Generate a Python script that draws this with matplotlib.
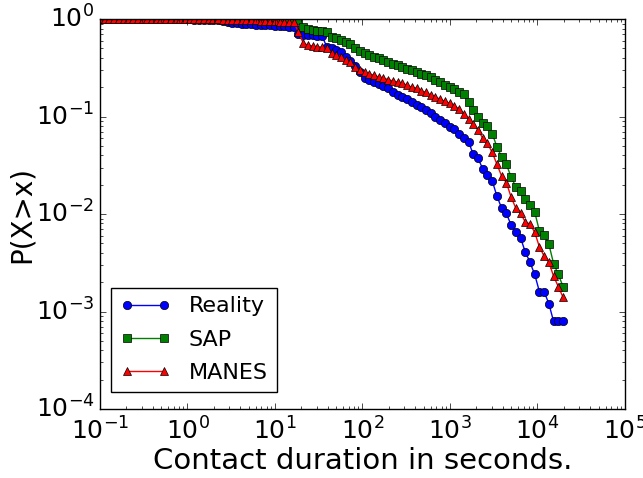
import matplotlib
matplotlib.use("Agg")
import matplotlib.pyplot as plt

# contact durations (seconds), shared by the three curves
durations = [0.1, 0.1132, 0.1282, 0.1452, 0.1644, 0.1862, 0.2109, 0.2388, 0.2704, 0.3062,
             0.3467, 0.3926, 0.4446, 0.5035, 0.5702, 0.6457, 0.7311, 0.8279, 0.9376, 1.062,
             1.202, 1.361, 1.542, 1.746, 1.977, 2.239, 2.535, 2.871, 3.251, 3.681,
             4.169, 4.721, 5.346, 6.053, 6.855, 7.762, 8.790, 9.954, 11.27, 12.76,
             14.45, 16.37, 18.54, 20.99, 23.77, 26.92, 30.48, 34.51, 39.08, 44.26,
             50.12, 56.75, 64.27, 72.78, 82.41, 93.33, 105.7, 119.7, 135.5, 153.5,
             173.8, 196.8, 222.8, 252.3, 285.8, 323.6, 366.4, 415.0, 469.9, 532.1,
             602.6, 682.3, 772.7, 875.0, 990.8, 1122, 1271, 1439, 1629, 1845,
             2089, 2366, 2679, 3034, 3436, 3890, 4406, 4989, 5649, 6397,
             7244, 8204, 9290, 10520, 11910, 13490, 15280, 17300, 19590]

reality = ([1.0] * 19 +
           [0.995, 0.99, 0.99, 0.985, 0.98, 0.975, 0.97, 0.96,
            0.94, 0.92, 0.91, 0.90, 0.895, 0.89, 0.88, 0.875, 0.87, 0.865, 0.86, 0.855, 0.85, 0.84, 0.83,
            0.70, 0.69, 0.685, 0.68, 0.675, 0.67,
            0.52, 0.50, 0.48, 0.46,
            0.41, 0.37, 0.33, 0.29, 0.25, 0.235, 0.225, 0.215, 0.205, 0.195, 0.18, 0.168,
            0.158, 0.15, 0.141, 0.132, 0.125, 0.117, 0.108, 0.10, 0.093, 0.086, 0.079, 0.074, 0.067, 0.061, 0.055,
            0.041, 0.0376, 0.029, 0.025, 0.022, 0.0153, 0.0115, 0.0102, 0.0077, 0.0065,
            0.0057, 0.0041, 0.0032, 0.0024, 0.0016, 0.0016, 0.0012, 0.00079, 0.00079, 0.00079])

sap = ([1.0] * 42 +
       [0.98, 0.83, 0.80, 0.77, 0.755, 0.75, 0.74,
        0.66, 0.64, 0.61, 0.58, 0.55, 0.51, 0.47, 0.45, 0.43, 0.41, 0.395, 0.38, 0.365, 0.35, 0.34,
        0.325, 0.31, 0.30, 0.286, 0.275, 0.265, 0.254, 0.24, 0.225, 0.212, 0.20, 0.19, 0.18,
        0.172, 0.141, 0.118, 0.10, 0.086, 0.08, 0.067, 0.049,
        0.0385, 0.0325, 0.024, 0.019, 0.0173, 0.0143, 0.0123, 0.0105, 0.0067, 0.0061,
        0.0049, 0.0031, 0.0024, 0.0018])

manes = ([1.0] * 25 +
         [0.995, 0.99, 0.99, 0.985, 0.98, 0.98, 0.975, 0.97, 0.97, 0.965, 0.96, 0.955, 0.95, 0.945, 0.94, 0.935,
          0.93,
          0.74, 0.57, 0.54, 0.53, 0.52, 0.515, 0.50,
          0.45, 0.43, 0.41, 0.38, 0.36, 0.32, 0.30, 0.285, 0.275, 0.265, 0.255, 0.248, 0.24,
          0.232, 0.226, 0.22, 0.21, 0.20, 0.196, 0.183, 0.178, 0.166, 0.16, 0.15, 0.144, 0.137,
          0.128, 0.12, 0.107, 0.095,
          0.084, 0.073, 0.06, 0.053,
          0.043, 0.0325, 0.0245, 0.021, 0.015, 0.0115, 0.0102, 0.0083, 0.0079, 0.0065,
          0.0046, 0.0037, 0.0032, 0.0023, 0.0018, 0.0014])

plt.style.use('classic')
plt.rcParams['figure.facecolor'] = 'white'
plt.rcParams['savefig.facecolor'] = 'white'
plt.rcParams['mathtext.fontset'] = 'dejavusans'
plt.rcParams['font.family'] = 'DejaVu Sans'

fig = plt.figure(figsize=(6.43, 4.78), dpi=100)
ax = fig.add_axes([0.1555, 0.1444, 0.8165, 0.8156])

ax.loglog(durations, reality, 'b-o', markersize=6, label='Reality')
ax.loglog(durations, sap, 'g-s', markersize=6, label='SAP')
ax.loglog(durations, manes, 'r-^', markersize=6, label='MANES')

ax.set_xlim(0.1, 1e5)
ax.set_ylim(1e-4, 1)
ax.set_xlabel('Contact duration in seconds.', fontsize=21, labelpad=2)
ax.set_ylabel('P(X>x)', fontsize=20, labelpad=0)
ax.tick_params(labelsize=18)
ax.tick_params(axis='x', pad=6)

ax.legend(loc='lower left', fontsize=16, numpoints=2, labelspacing=0.6,
          handlelength=2.3, borderaxespad=0.5, bbox_to_anchor=(0, 0.015))

fig.savefig('out.png', dpi=100)
